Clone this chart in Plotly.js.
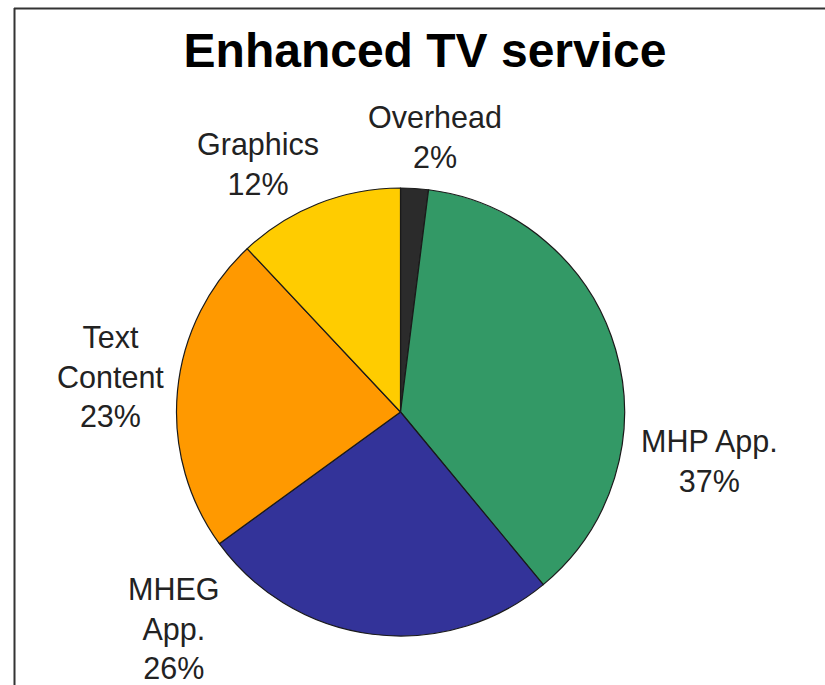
<!DOCTYPE html>
<html>
<head>
<meta charset="utf-8">
<script src="https://cdn.plot.ly/plotly-3.0.1.min.js"></script>
<style>html,body{margin:0;padding:0;background:#fff;}#chart{width:825px;height:685px;}</style>
</head>
<body>
<div id="chart"></div>
<script>
var categories = ["Overhead", "MHP App.", "MHEG App.", "Text Content", "Graphics"];
var labelTexts = ["Overhead<br>2%", "MHP App.<br>37%", "MHEG<br>App.<br>26%", "Text<br>Content<br>23%", "Graphics<br>12%"];
var values = [2, 37, 26, 23, 12];
var colors = ["#2b2b2b", "#339966", "#333399", "#FF9900", "#FFCC00"];

var W = 825, H = 685;
// pie geometry (pixels)
var cx = 400.5, cy = 412, R = 224;
// label anchor positions (pixels), layout only
var labelPos = [[435, 137], [709, 461], [174, 628], [110, 376], [258, 164]];

var annotations = categories.map(function (c, i) {
  return {
    text: labelTexts[i],
    xref: "paper", yref: "paper",
    x: labelPos[i][0] / W, y: 1 - labelPos[i][1] / H,
    xanchor: "center", yanchor: "middle",
    showarrow: false, align: "center",
    font: {family: "Liberation Sans, Arial, sans-serif", size: 30.5, color: "#222"}
  };
});

var trace = {
  type: "pie",
  labels: categories,
  values: values,
  sort: false,
  direction: "clockwise",
  rotation: 0,
  textinfo: "none",
  hoverinfo: "label+percent",
  marker: {colors: colors, line: {color: "#1a1a1a", width: 1.2}},
  domain: {x: [(cx - R) / W, (cx + R) / W], y: [1 - (cy + R) / H, 1 - (cy - R) / H]},
  showlegend: false
};

var layout = {
  width: W, height: H,
  margin: {l: 0, r: 0, t: 0, b: 0},
  paper_bgcolor: "#ffffff",
  showlegend: false,
  title: {
    text: "<b>Enhanced TV service</b>",
    xref: "paper", yref: "paper",
    x: 425 / W, y: 1 - 50 / H,
    xanchor: "center", yanchor: "middle",
    font: {family: "Liberation Sans, Arial, sans-serif", size: 48, color: "#000"}
  },
  annotations: annotations,
  shapes: [
    {type: "line", xref: "paper", yref: "paper", x0: 14 / W, x1: 1, y0: 1 - 8.5 / H, y1: 1 - 8.5 / H, line: {color: "#333", width: 2}},
    {type: "line", xref: "paper", yref: "paper", x0: 14.5 / W, x1: 14.5 / W, y0: 0, y1: 1 - 8 / H, line: {color: "#333", width: 2}}
  ]
};

Plotly.newPlot("chart", [trace], layout, {displayModeBar: false, staticPlot: true});
</script>
</body>
</html>
